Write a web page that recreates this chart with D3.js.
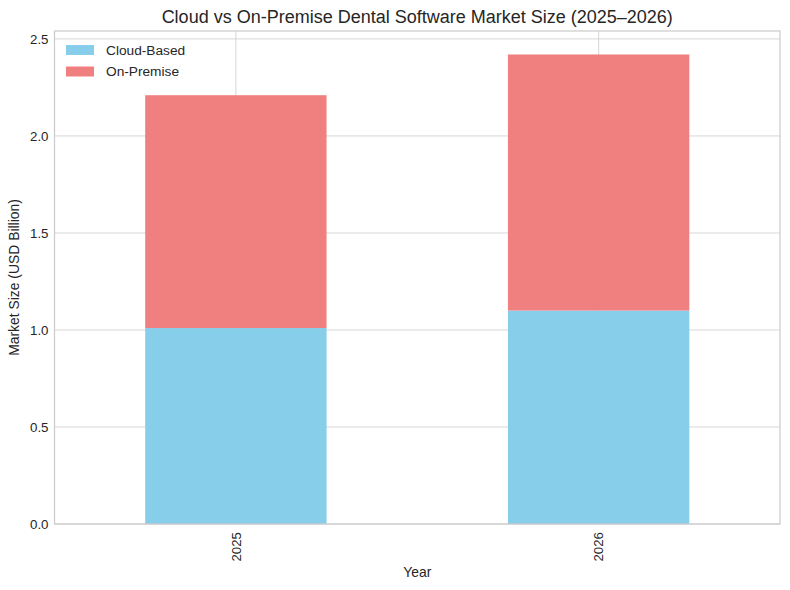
<!DOCTYPE html>
<html><head><meta charset="utf-8">
<script src="https://cdn.jsdelivr.net/npm/d3@7/dist/d3.min.js"></script>
<style>
body{margin:0;background:#fff;}
text{font-family:"Liberation Sans",Arial,sans-serif;fill:#262626;}
</style></head>
<body><svg id="c" width="790" height="590"></svg>
<script>
const years = ["2025", "2026"];
const cloudBased = [1.01, 1.10];
const onPremise = [1.20, 1.32];
const yTicks = [0.0, 0.5, 1.0, 1.5, 2.0, 2.5];
const seriesNames = ["Cloud-Based", "On-Premise"];
const colors = ["#87CEEB", "#F08080"];

const svg = d3.select("#c");
const L = 54.5, R = 780, T = 31, B = 524;
const totals = years.map((y,i)=>cloudBased[i]+onPremise[i]);
const ymax = d3.max(totals)*1.05;
const y = d3.scaleLinear().domain([0, ymax]).range([B, T]);
const x = d3.scaleLinear().domain([-0.5, years.length-0.5]).range([L, R]);
const bw = 0.5;

// grid
const g = svg.append("g");
g.selectAll(".hg").data(yTicks).enter().append("line")
  .attr("x1", L).attr("x2", R).attr("y1", d=>y(d)).attr("y2", d=>y(d))
  .attr("stroke", "#cccccc").attr("stroke-width", 0.8);
g.selectAll(".vg").data(years).enter().append("line")
  .attr("x1", (d,i)=>x(i)).attr("x2", (d,i)=>x(i)).attr("y1", T).attr("y2", B)
  .attr("stroke", "#cccccc").attr("stroke-width", 0.8);

// bars
const stackData = years.map((yr,i)=>({year:yr, i, "Cloud-Based":cloudBased[i], "On-Premise":onPremise[i]}));
const stack = d3.stack().keys(seriesNames)(stackData);
stack.forEach((s,k)=>{
  svg.append("g").selectAll("rect").data(s).enter().append("rect")
    .attr("x", d=>x(d.data.i - bw/2))
    .attr("width", d=>x(bw) - x(0))
    .attr("y", d=>y(d[1]))
    .attr("height", d=>y(d[0]) - y(d[1]))
    .attr("fill", colors[k]);
});

// frame
svg.append("rect").attr("x", L).attr("y", T).attr("width", R-L).attr("height", B-T)
  .attr("fill", "none").attr("stroke", "#cccccc").attr("stroke-width", 1.25);

// y tick labels
svg.selectAll(".yt").data(yTicks).enter().append("text")
  .attr("x", L-6).attr("y", d=>y(d)).attr("dy", "0.35em")
  .attr("text-anchor", "end").attr("font-size", "13.3px")
  .text(d=>d.toFixed(1));

// x tick labels rotated
svg.selectAll(".xt").data(years).enter().append("text")
  .attr("transform", (d,i)=>`translate(${x(i)+4.8},${B+8}) rotate(-90)`)
  .attr("text-anchor", "end").attr("font-size", "13.3px")
  .text(d=>d);

// axis labels
svg.append("text").attr("x", (L+R)/2).attr("y", 577).attr("text-anchor", "middle")
  .attr("font-size", "13.9px").text("Year");
svg.append("text").attr("transform", `translate(19,${(T+B)/2}) rotate(-90)`)
  .attr("text-anchor", "middle").attr("font-size", "13.9px").text("Market Size (USD Billion)");

// title
svg.append("text").attr("x", (L+R)/2).attr("y", 23).attr("text-anchor", "middle")
  .attr("font-size", "18px").text("Cloud vs On-Premise Dental Software Market Size (2025–2026)");

// legend
const lg = svg.append("g");
seriesNames.forEach((n,k)=>{
  lg.append("rect").attr("x", 66).attr("y", 45 + k*21.5).attr("width", 28).attr("height", 10)
    .attr("fill", colors[k]);
  lg.append("text").attr("x", 106).attr("y", 50 + k*21.5).attr("dy", "0.35em")
    .attr("font-size", "13.7px").text(n);
});
</script></body></html>
